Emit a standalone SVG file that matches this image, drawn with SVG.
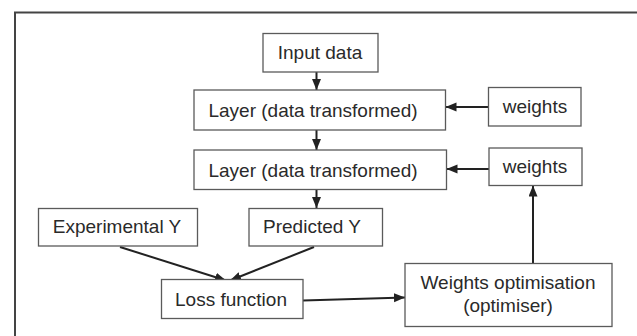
<svg xmlns="http://www.w3.org/2000/svg" width="637" height="336" viewBox="0 0 637 336">
<style>
.box{fill:#fff;stroke:#5a5a5a;stroke-width:1.3}
.t{font-family:"Liberation Sans",Arial,sans-serif;font-size:19px;fill:#2a2a2a;text-anchor:middle}
.c{fill:none;stroke:#222;stroke-width:2}
</style>
<defs>
<marker id="ah" markerUnits="userSpaceOnUse" markerWidth="12" markerHeight="10" refX="11" refY="4.5" orient="auto">
<path d="M0,0 L11,4.5 L0,9 z" fill="#222"/>
</marker>
</defs>
<rect width="637" height="336" fill="#fff"/>
<path d="M15,340 V12.5 H640" fill="none" stroke="#444" stroke-width="2"/>
<g id="connectors">
<line class="c" x1="316.5" y1="72" x2="316.5" y2="90" marker-end="url(#ah)"/>
<line class="c" x1="488.5" y1="107" x2="445.5" y2="107" marker-end="url(#ah)"/>
<line class="c" x1="316.5" y1="130" x2="316.5" y2="150" marker-end="url(#ah)"/>
<line class="c" x1="489" y1="169" x2="446.5" y2="169" marker-end="url(#ah)"/>
<line class="c" x1="316.5" y1="189" x2="316.5" y2="208" marker-end="url(#ah)"/>
<line class="c" x1="533" y1="263" x2="533" y2="185.5" marker-end="url(#ah)"/>
<line class="c" x1="120" y1="247" x2="226" y2="280.5" marker-end="url(#ah)"/>
<line class="c" x1="314" y1="247" x2="230" y2="280.5" marker-end="url(#ah)"/>
<line class="c" x1="303" y1="300.5" x2="405" y2="297.5" marker-end="url(#ah)"/>
</g>
<g id="input"><rect class="box" x="263" y="33.5" width="115" height="38.5"/><text class="t" x="320" y="59">Input data</text></g>
<g id="layer1"><rect class="box" x="194" y="90" width="251.5" height="40"/><text class="t" x="313" y="116.5">Layer (data transformed)</text></g>
<g id="weights1"><rect class="box" x="488.5" y="87.5" width="92.5" height="38.5"/><text class="t" x="535" y="113">weights</text></g>
<g id="layer2"><rect class="box" x="194" y="150" width="252.5" height="39.5"/><text class="t" x="313" y="176.5">Layer (data transformed)</text></g>
<g id="weights2"><rect class="box" x="489" y="148" width="93" height="37.5"/><text class="t" x="535" y="173">weights</text></g>
<g id="expY"><rect class="box" x="38.5" y="208.5" width="159" height="37.5"/><text class="t" x="117" y="232.5">Experimental Y</text></g>
<g id="predY"><rect class="box" x="249" y="208.5" width="133.5" height="37.5"/><text class="t" x="312" y="232.5">Predicted Y</text></g>
<g id="loss"><rect class="box" x="161.5" y="279.5" width="141.5" height="39"/><text class="t" x="231" y="305.5">Loss function</text></g>
<g id="optimiser"><rect class="box" x="405" y="263.5" width="207" height="63"/><text class="t" x="508" y="289">Weights optimisation</text><text class="t" x="508" y="312">(optimiser)</text></g>
</svg>
